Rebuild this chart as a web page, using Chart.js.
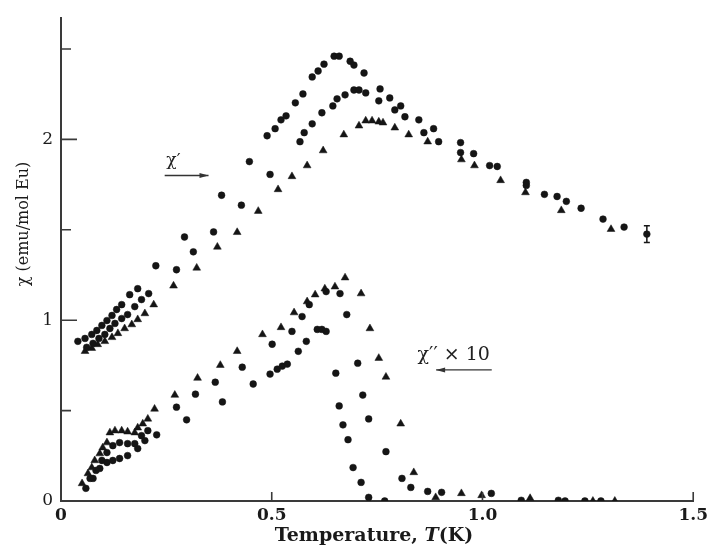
<!DOCTYPE html>
<html>
<head>
<meta charset="utf-8">
<script src="https://cdn.jsdelivr.net/npm/chart.js@4.4.0/dist/chart.umd.min.js"></script>
<style>
  html, body { margin: 0; padding: 0; background: #fff; }
  canvas { display: block; }
</style>
</head>
<body>
<canvas id="c" width="712" height="549"></canvas>
<script>
// Axis ticks
const xTicks = [0, 0.5, 1.0, 1.5];
const xTickLabels = ['0', '0.5', '1.0', '1.5'];
const yTicks = [0, 1, 2];
const yTickLabels = ['0', '1', '2'];
const yMinorTicks = [0.5, 1.5, 2.5];

// χ′ : temperature (K), susceptibility (emu/mol Eu)
const chiPrimeA = [ // circles, highest peak
  [0.040,0.883],[0.057,0.899],[0.073,0.921],[0.085,0.943],[0.097,0.971],[0.109,0.998],
  [0.121,1.026],[0.132,1.059],[0.144,1.086],[0.163,1.141],[0.182,1.174],[0.225,1.301],
  [0.293,1.460],[0.381,1.691],[0.447,1.877],[0.489,2.020],[0.508,2.059],[0.522,2.108],
  [0.534,2.130],[0.556,2.202],[0.574,2.251],[0.596,2.345],[0.610,2.378],[0.624,2.416],
  [0.648,2.460],[0.660,2.460],[0.686,2.432],[0.695,2.411],[0.719,2.367],[0.757,2.279],
  [0.780,2.229],[0.806,2.185],[0.849,2.108],[0.884,2.059],[0.948,1.982],[0.979,1.921],
  [1.035,1.850],[1.104,1.762],[1.177,1.684],[1.286,1.559],[1.390,1.476]
];
const chiPrimeB = [ // circles, middle peak
  [0.061,0.850],[0.076,0.872],[0.090,0.899],[0.104,0.921],[0.116,0.954],[0.128,0.982],
  [0.144,1.009],[0.158,1.031],[0.175,1.075],[0.191,1.114],[0.208,1.147],[0.274,1.279],
  [0.314,1.378],[0.362,1.488],[0.428,1.636],[0.496,1.806],[0.567,1.987],[0.577,2.037],
  [0.596,2.086],[0.619,2.147],[0.645,2.185],[0.655,2.224],[0.674,2.246],[0.695,2.273],
  [0.707,2.273],[0.723,2.257],[0.754,2.213],[0.792,2.163],[0.816,2.125],[0.861,2.037],
  [0.896,1.987],[0.948,1.927],[1.017,1.855],[1.104,1.745],[1.147,1.696],[1.199,1.657],
  [1.234,1.619],[1.336,1.515]
];
const chiPrimeC = [ // triangles, lowest peak
  [0.057,0.828],[0.073,0.845],[0.087,0.866],[0.104,0.883],[0.121,0.905],[0.135,0.927],
  [0.151,0.954],[0.168,0.976],[0.182,1.004],[0.199,1.037],[0.220,1.086],[0.267,1.190],
  [0.322,1.289],[0.371,1.405],[0.418,1.486],[0.468,1.603],[0.515,1.723],[0.548,1.795],
  [0.584,1.855],[0.622,1.938],[0.671,2.026],[0.707,2.075],[0.723,2.103],[0.738,2.103],
  [0.754,2.097],[0.764,2.092],[0.792,2.064],[0.825,2.026],[0.870,1.987],[0.950,1.888],
  [0.981,1.855],[1.043,1.773],[1.102,1.706],[1.187,1.607],[1.305,1.503]
];

// χ″ × 10
const chiDoubleA = [ // triangles
  [0.050,0.097],[0.064,0.152],[0.073,0.185],[0.080,0.224],[0.092,0.262],[0.099,0.295],
  [0.109,0.323],[0.116,0.378],[0.128,0.389],[0.144,0.389],[0.158,0.383],[0.175,0.378],
  [0.182,0.405],[0.194,0.427],[0.206,0.454],[0.222,0.509],[0.270,0.586],[0.324,0.680],
  [0.378,0.751],[0.418,0.828],[0.478,0.921],[0.522,0.960],[0.553,1.042],[0.584,1.103],
  [0.603,1.141],[0.626,1.174],[0.650,1.185],[0.674,1.235],[0.712,1.147],[0.733,0.954],
  [0.754,0.790],[0.771,0.686],[0.806,0.427],[0.837,0.158],[0.889,0.020],[0.950,0.042],
  [0.998,0.031],[1.113,0.015],[1.262,0.000],[1.314,0.000]
];
const chiDoubleB = [ // circles
  [0.069,0.125],[0.083,0.169],[0.097,0.224],[0.109,0.268],[0.123,0.306],[0.139,0.323],
  [0.158,0.317],[0.175,0.317],[0.191,0.361],[0.206,0.389],[0.274,0.519],[0.319,0.591],
  [0.366,0.657],[0.430,0.740],[0.501,0.867],[0.548,0.938],[0.572,1.020],[0.589,1.086],
  [0.629,1.158],[0.662,1.147],[0.678,1.031],[0.704,0.762],[0.716,0.586],[0.730,0.454],
  [0.771,0.273],[0.809,0.125],[0.830,0.075],[0.870,0.053],[0.903,0.048],[1.021,0.042],
  [1.180,0.004],[1.281,0.000]
];
const chiDoubleC = [ // circles
  [0.059,0.070],[0.076,0.125],[0.092,0.180],[0.109,0.213],[0.123,0.224],[0.139,0.235],
  [0.158,0.251],[0.182,0.290],[0.199,0.334],[0.227,0.366],[0.298,0.449],[0.383,0.548],
  [0.456,0.647],[0.496,0.702],[0.513,0.729],[0.525,0.746],[0.537,0.757],[0.563,0.828],
  [0.582,0.883],[0.608,0.949],[0.619,0.949],[0.629,0.938],[0.652,0.707],[0.660,0.526],
  [0.669,0.421],[0.681,0.339],[0.693,0.185],[0.712,0.103],[0.730,0.020],[0.768,0.000],
  [1.092,0.004],[1.196,0.000],[1.243,0.000]
];

// Error bar on the highest-temperature χ′ point
const errorBar = { x: 1.390, lo: 1.430, hi: 1.522 };

const INK = '#151515';
const AXIS = '#3a3a3a';
const SERIF = "'DejaVu Serif', 'Liberation Serif', serif";

function toPoints(arr) { return arr.map(p => ({ x: p[0], y: p[1] })); }

function series(arr, style) {
  return {
    data: toPoints(arr),
    showLine: false,
    pointStyle: style,
    pointRadius: style === 'triangle' ? 4.5 : 3.4,
    pointBackgroundColor: INK,
    pointBorderColor: INK,
    pointBorderWidth: 0.5
  };
}

function arrow(ctx, x1, y, x2, headAtEnd) {
  ctx.save();
  ctx.strokeStyle = '#333';
  ctx.fillStyle = '#333';
  ctx.lineWidth = 1.3;
  ctx.beginPath();
  ctx.moveTo(x1, y);
  ctx.lineTo(x2, y);
  ctx.stroke();
  const hx = headAtEnd ? x2 : x1;
  const dir = headAtEnd ? -1 : 1;
  ctx.beginPath();
  ctx.moveTo(hx, y);
  ctx.lineTo(hx + dir * 9, y - 2.5);
  ctx.lineTo(hx + dir * 9, y + 2.5);
  ctx.closePath();
  ctx.fill();
  ctx.restore();
}

const decorations = {
  id: 'decorations',
  afterDraw(chart) {
    const { ctx, chartArea, scales } = chart;
    const xs = scales.x, ys = scales.y;
    ctx.save();
    // inward tick marks
    ctx.strokeStyle = AXIS;
    ctx.lineWidth = 1.6;
    ctx.beginPath();
    yTicks.filter(v => v > 0).forEach(v => {
      const py = ys.getPixelForValue(v);
      ctx.moveTo(chartArea.left, py); ctx.lineTo(chartArea.left + 16, py);
    });
    yMinorTicks.forEach(v => {
      const py = ys.getPixelForValue(v);
      ctx.moveTo(chartArea.left, py); ctx.lineTo(chartArea.left + 10, py);
    });
    xTicks.filter(v => v > 0).forEach(v => {
      const px = xs.getPixelForValue(v);
      ctx.moveTo(px, chartArea.bottom); ctx.lineTo(px, chartArea.bottom - 9);
    });
    ctx.stroke();

    // error bar
    const ex = xs.getPixelForValue(errorBar.x);
    const eLo = ys.getPixelForValue(errorBar.lo);
    const eHi = ys.getPixelForValue(errorBar.hi);
    ctx.strokeStyle = INK;
    ctx.lineWidth = 1.5;
    ctx.beginPath();
    ctx.moveTo(ex, eLo); ctx.lineTo(ex, eHi);
    ctx.moveTo(ex - 3, eLo); ctx.lineTo(ex + 3, eLo);
    ctx.moveTo(ex - 3, eHi); ctx.lineTo(ex + 3, eHi);
    ctx.stroke();

    // χ′ label with arrow
    ctx.fillStyle = '#222';
    ctx.font = '17px ' + SERIF;
    ctx.textAlign = 'left';
    ctx.textBaseline = 'alphabetic';
    ctx.fillText('χ′', xs.getPixelForValue(0.250), ys.getPixelForValue(1.86));
    arrow(ctx, xs.getPixelForValue(0.246), ys.getPixelForValue(1.80), xs.getPixelForValue(0.350), true);

    // χ″ × 10 label with arrow
    ctx.font = '19px ' + SERIF;
    ctx.fillText('χ′′ × 10', xs.getPixelForValue(0.846), ys.getPixelForValue(0.78));
    arrow(ctx, xs.getPixelForValue(0.890), ys.getPixelForValue(0.725), xs.getPixelForValue(1.022), false);

    // axis titles
    ctx.fillStyle = '#1a1a1a';
    ctx.font = 'bold 19px ' + SERIF;
    const w1 = ctx.measureText('Temperature, ').width;
    ctx.font = 'bold italic 19px ' + SERIF;
    const w2 = ctx.measureText('T').width;
    ctx.font = 'bold 19px ' + SERIF;
    const w3 = ctx.measureText('(K)').width;
    const total = w1 + w2 + w3;
    const tx = 374 - total / 2;
    const ty = 536;
    ctx.textAlign = 'left';
    ctx.textBaseline = 'middle';
    ctx.fillText('Temperature, ', tx, ty);
    ctx.font = 'bold italic 19px ' + SERIF;
    ctx.fillText('T', tx + w1, ty);
    ctx.font = 'bold 19px ' + SERIF;
    ctx.fillText('(K)', tx + w1 + w2, ty);

    ctx.save();
    ctx.translate(24, 224);
    ctx.rotate(-Math.PI / 2);
    ctx.font = '16px ' + SERIF;
    ctx.textAlign = 'center';
    ctx.textBaseline = 'middle';
    ctx.fillText('χ (emu/mol Eu)', 0, 0);
    ctx.restore();

    ctx.restore();
  }
};

new Chart(document.getElementById('c'), {
  type: 'scatter',
  data: {
    datasets: [
      series(chiPrimeA, 'circle'),
      series(chiPrimeB, 'circle'),
      series(chiPrimeC, 'triangle'),
      series(chiDoubleA, 'triangle'),
      series(chiDoubleB, 'circle'),
      series(chiDoubleC, 'circle')
    ]
  },
  options: {
    responsive: false,
    animation: false,
    devicePixelRatio: 1,
    layout: { padding: { top: 15, right: 16, left: 0, bottom: 0 } },
    plugins: { legend: { display: false }, tooltip: { enabled: false } },
    scales: {
      x: {
        type: 'linear',
        min: 0, max: 1.5,
        afterBuildTicks: s => { s.ticks = xTicks.map(v => ({ value: v })); },
        afterFit: s => { s.height = 48; },
        grid: { display: true, drawOnChartArea: false, drawTicks: false },
        border: { display: true, color: AXIS, width: 2 },
        ticks: {
          padding: 4,
          color: '#1a1a1a',
          font: { family: SERIF, size: 17, weight: 'bold' },
          maxRotation: 0,
          autoSkip: false,
          callback: v => { const i = xTicks.indexOf(v); return i >= 0 ? xTickLabels[i] : ''; }
        }
      },
      y: {
        type: 'linear',
        min: 0, max: 2.67,
        afterBuildTicks: s => { s.ticks = yTicks.map(v => ({ value: v })); },
        afterFit: s => { s.width = 61; },
        grid: { display: true, drawOnChartArea: false, drawTicks: false },
        border: { display: true, color: AXIS, width: 2 },
        ticks: {
          padding: 8,
          color: '#1a1a1a',
          font: { family: SERIF, size: 17 },
          autoSkip: false,
          callback: v => { const i = yTicks.indexOf(v); return i >= 0 ? yTickLabels[i] : ''; }
        }
      }
    }
  },
  plugins: [decorations]
});
</script>
</body>
</html>
